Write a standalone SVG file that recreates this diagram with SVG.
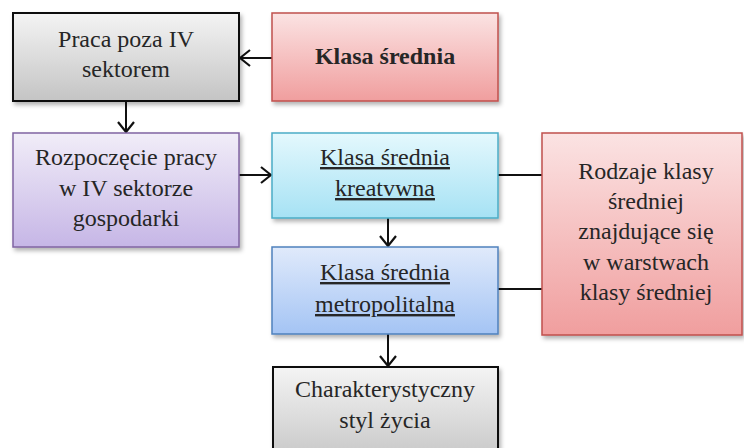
<svg xmlns="http://www.w3.org/2000/svg" width="744" height="448" viewBox="0 0 744 448">
  <defs>
    <linearGradient id="gGray" x1="0" y1="0" x2="0" y2="1">
      <stop offset="0" stop-color="#f4f4f4"/>
      <stop offset="1" stop-color="#c4c4c4"/>
    </linearGradient>
    <linearGradient id="gRed" x1="0" y1="0" x2="0" y2="1">
      <stop offset="0" stop-color="#fbe3e3"/>
      <stop offset="1" stop-color="#f09e9e"/>
    </linearGradient>
    <linearGradient id="gPurple" x1="0" y1="0" x2="0" y2="1">
      <stop offset="0" stop-color="#f1edf8"/>
      <stop offset="1" stop-color="#c6b6e6"/>
    </linearGradient>
    <linearGradient id="gCyan" x1="0" y1="0" x2="0" y2="1">
      <stop offset="0" stop-color="#e4f8fd"/>
      <stop offset="1" stop-color="#a6e2f4"/>
    </linearGradient>
    <linearGradient id="gBlue" x1="0" y1="0" x2="0" y2="1">
      <stop offset="0" stop-color="#e0eafb"/>
      <stop offset="1" stop-color="#a4c4f4"/>
    </linearGradient>
    <filter id="shadow" x="-5%" y="-5%" width="115%" height="120%">
      <feDropShadow dx="2" dy="3" stdDeviation="2" flood-color="#000" flood-opacity="0.3"/>
    </filter>
    <marker id="chev" viewBox="0 0 12 18" refX="11" refY="9" markerWidth="12" markerHeight="18" markerUnits="userSpaceOnUse" orient="auto">
      <path d="M1,1 L11,9 L1,17" fill="none" stroke="#111" stroke-width="2.2"/>
    </marker>
  </defs>
  <style>
    .box { filter: url(#shadow); }
    text { font-family: "Liberation Serif", "DejaVu Serif", serif; font-size: 24px; fill: #262626; text-anchor: middle; }
    .bold { font-weight: bold; }
    .ul { text-decoration: underline; }
    .conn { fill: none; stroke: #111; stroke-width: 2; }
  </style>

  <rect width="744" height="448" fill="#ffffff"/>

  <!-- connectors -->
  <g id="connectors">
    <line class="conn" x1="272" y1="58" x2="240" y2="58" marker-end="url(#chev)"/>
    <line class="conn" x1="126" y1="101" x2="126" y2="132" marker-end="url(#chev)"/>
    <line class="conn" x1="239" y1="175" x2="271" y2="175" marker-end="url(#chev)"/>
    <line class="conn" x1="388" y1="218" x2="388" y2="246" marker-end="url(#chev)"/>
    <line class="conn" x1="388" y1="334" x2="388" y2="366" marker-end="url(#chev)"/>
    <line class="conn" x1="498" y1="175" x2="542" y2="175" stroke-width="1.5"/>
    <line class="conn" x1="498" y1="289" x2="542" y2="289" stroke-width="1.5"/>
  </g>

  <g font-family="Liberation Serif, DejaVu Serif, serif">
  <!-- Praca poza IV sektorem -->
  <g id="praca">
    <rect class="box" x="13" y="13" width="226" height="88" fill="url(#gGray)" stroke="#111" stroke-width="2"/>
    <text x="126" y="47">Praca poza IV</text>
    <text x="126" y="77">sektorem</text>
  </g>

  <!-- Klasa średnia -->
  <g id="klasa">
    <rect class="box" x="272" y="13" width="226" height="88" fill="url(#gRed)" stroke="#c0504d" stroke-width="1.5"/>
    <text class="bold" x="385" y="64">Klasa średnia</text>
  </g>

  <!-- Rozpoczęcie pracy -->
  <g id="rozpoczecie">
    <rect class="box" x="13" y="133" width="226" height="114" fill="url(#gPurple)" stroke="#8064a2" stroke-width="1.5"/>
    <text x="126" y="165">Rozpoczęcie pracy</text>
    <text x="126" y="196">w IV sektorze</text>
    <text x="126" y="226">gospodarki</text>
  </g>

  <!-- Klasa średnia kreatywna -->
  <g id="kreatywna">
    <rect class="box" x="272" y="133" width="226" height="85" fill="url(#gCyan)" stroke="#4bacc6" stroke-width="1.5"/>
    <text class="ul" x="385" y="165">Klasa średnia</text>
    <text class="ul" x="385" y="196">kreatvwna</text>
  </g>

  <!-- Klasa średnia metropolitalna -->
  <g id="metropolitalna">
    <rect class="box" x="272" y="247" width="226" height="87" fill="url(#gBlue)" stroke="#4f81bd" stroke-width="1.5"/>
    <text class="ul" x="385" y="280">Klasa średnia</text>
    <text class="ul" x="385" y="312">metropolitalna</text>
  </g>

  <!-- Charakterystyczny styl życia -->
  <g id="styl">
    <rect class="box" x="273" y="367" width="225" height="100" fill="url(#gGray)" stroke="#111" stroke-width="2"/>
    <text x="385" y="397">Charakterystyczny</text>
    <text x="385" y="428">styl życia</text>
  </g>

  <!-- Rodzaje klasy średniej -->
  <g id="rodzaje">
    <rect class="box" x="542" y="133" width="200" height="202" fill="url(#gRed)" stroke="#c0504d" stroke-width="1.5"/>
    <text x="646" y="179">Rodzaje klasy</text>
    <text x="646" y="209">średniej</text>
    <text x="646" y="239">znajdujące się</text>
    <text x="646" y="270">w warstwach</text>
    <text x="646" y="300">klasy średniej</text>
  </g>
  </g>
</svg>
